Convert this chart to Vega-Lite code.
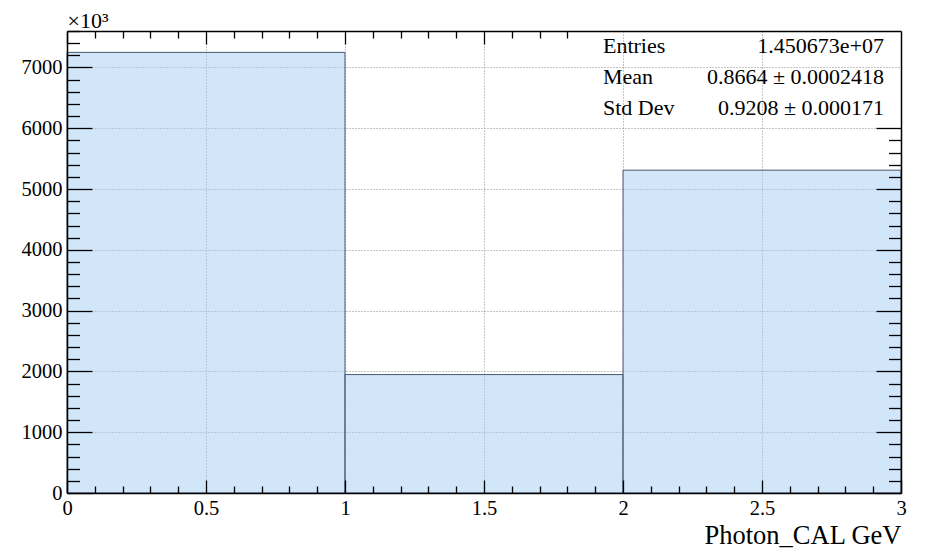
{
  "$schema": "https://vega.github.io/schema/vega-lite/v6.json",
  "width": 834,
  "height": 462,
  "autosize": "none",
  "padding": {"left": 67, "top": 31, "right": 26, "bottom": 56},
  "background": "white",
  "config": {
    "view": {"stroke": null},
    "font": "Liberation Serif",
    "axis": {
      "labelFont": "Liberation Serif",
      "titleFont": "Liberation Serif",
      "labelColor": "black",
      "titleColor": "black",
      "tickColor": "black",
      "domainColor": "black",
      "titleFontWeight": "normal",
      "labelFlush": false,
      "labelOverlap": false
    }
  },
  "resolve": {"axis": {"x": "independent", "y": "independent"}},
  "layer": [
    {
      "data": {"values": [
        {"bin_start": 0, "bin_end": 1, "entries_k": 7248.4},
        {"bin_start": 1, "bin_end": 2, "entries_k": 1947.9},
        {"bin_start": 2, "bin_end": 3, "entries_k": 5310.4}
      ]},
      "mark": {"type": "rect", "fill": "#a3cdf4", "fillOpacity": 0.5, "stroke": "#4a5670", "strokeWidth": 1},
      "encoding": {
        "x": {"field": "bin_start", "type": "quantitative",
          "scale": {"domain": [0, 3], "nice": false, "zero": false},
          "axis": {"orient": "bottom", "zindex": 0, "values": [0.5, 1, 1.5, 2, 2.5], "grid": true, "gridColor": "#8a8a8a", "gridDash": [1, 2], "gridWidth": 1, "ticks": false, "labels": false, "domain": false, "title": null}},
        "x2": {"field": "bin_end"},
        "y": {"field": "entries_k", "type": "quantitative",
          "scale": {"domain": [0, 7600], "nice": false},
          "axis": {"orient": "left", "zindex": 0, "values": [1000, 2000, 3000, 4000, 5000, 6000, 7000], "grid": true, "gridColor": "#8a8a8a", "gridDash": [1, 2], "gridWidth": 1, "ticks": false, "labels": false, "domain": false, "title": null}},
        "y2": {"datum": 0}
      }
    },
    {
      "mark": {"type": "rect", "fill": "white", "stroke": "black", "strokeWidth": 1.2},
      "encoding": {
        "x": {"datum": 1.874, "type": "quantitative",
          "scale": {"domain": [0, 3], "nice": false, "zero": false},
          "axis": {"orient": "bottom", "zindex": 1,
            "values": [0, 0.1, 0.2, 0.3, 0.4, 0.5, 0.6, 0.7, 0.8, 0.9, 1, 1.1, 1.2, 1.3, 1.4, 1.5, 1.6, 1.7, 1.8, 1.9, 2, 2.1, 2.2, 2.3, 2.4, 2.5, 2.6, 2.7, 2.8, 2.9, 3],
            "format": "~g",
            "labelExpr": "abs(datum.value % 0.5) < 1e-9 ? datum.label : ''",
            "tickSize": {"condition": {"test": "abs(datum.value % 0.5) < 1e-9", "value": -13}, "value": -7},
            "tickWidth": 1.3,
            "grid": false,
            "domainWidth": 1.5,
            "labelFontSize": 20.5,
            "labelBaseline": "alphabetic",
            "labelPadding": 34,
            "title": "Photon_CAL GeV",
            "titleFontSize": 26.5,
            "titleAlign": "right",
            "titleBaseline": "alphabetic",
            "titleX": 834,
            "titleY": 50}},
        "x2": {"datum": 3},
        "y": {"datum": 7600, "type": "quantitative",
          "scale": {"domain": [0, 7600], "nice": false},
          "axis": {"orient": "left", "zindex": 1,
            "values": [0, 200, 400, 600, 800, 1000, 1200, 1400, 1600, 1800, 2000, 2200, 2400, 2600, 2800, 3000, 3200, 3400, 3600, 3800, 4000, 4200, 4400, 4600, 4800, 5000, 5200, 5400, 5600, 5800, 6000, 6200, 6400, 6600, 6800, 7000, 7200, 7400, 7600],
            "format": "d",
            "labelExpr": "datum.value % 1000 === 0 ? datum.label : ''",
            "tickSize": {"condition": {"test": "datum.value % 1000 === 0", "value": -25}, "value": -12.5},
            "tickWidth": 1.3,
            "grid": false,
            "domainWidth": 1.5,
            "labelFontSize": 20.5,
            "labelPadding": 30,
            "title": "×10³",
            "titleFontSize": 22,
            "titleAngle": 0,
            "titleAlign": "left",
            "titleBaseline": "alphabetic",
            "titleX": 0,
            "titleY": -4}},
        "y2": {"datum": 6087}
      }
    },
    {
      "data": {"values": [
        {"stat": "Entries", "value": "1.450673e+07"},
        {"stat": "Mean", "value": "0.8664 ± 0.0002418"},
        {"stat": "Std Dev", "value": "0.9208 ± 0.000171"}
      ]},
      "mark": {"type": "text", "align": "left", "baseline": "alphabetic", "fontSize": 22, "font": "Liberation Serif", "color": "black"},
      "encoding": {
        "x": {"datum": 1.928, "type": "quantitative",
          "scale": {"domain": [0, 3], "nice": false, "zero": false},
          "axis": {"orient": "top", "zindex": 1,
            "values": [0, 0.1, 0.2, 0.3, 0.4, 0.5, 0.6, 0.7, 0.8, 0.9, 1, 1.1, 1.2, 1.3, 1.4, 1.5, 1.6, 1.7, 1.8],
            "labels": false,
            "tickSize": {"condition": {"test": "abs(datum.value % 0.5) < 1e-9", "value": -13}, "value": -7},
            "tickWidth": 1.3,
            "grid": false,
            "domainWidth": 1.5,
            "title": null}},
        "y": {"datum": 7237, "type": "quantitative",
          "scale": {"domain": [0, 7600], "nice": false},
          "axis": {"orient": "right", "zindex": 1,
            "values": [0, 200, 400, 600, 800, 1000, 1200, 1400, 1600, 1800, 2000, 2200, 2400, 2600, 2800, 3000, 3200, 3400, 3600, 3800, 4000, 4200, 4400, 4600, 4800, 5000, 5200, 5400, 5600, 5800, 6000],
            "labels": false,
            "tickSize": {"condition": {"test": "datum.value % 1000 === 0", "value": -25}, "value": -12.5},
            "tickWidth": 1.3,
            "grid": false,
            "domainWidth": 1.5,
            "title": null}},
        "yOffset": {"field": "stat", "type": "nominal", "scale": {"type": "point", "domain": ["Entries", "Mean", "Std Dev"], "range": [0, 62], "padding": 0}},
        "text": {"field": "stat"}
      }
    },
    {
      "data": {"values": [
        {"stat": "Entries", "value": "1.450673e+07"},
        {"stat": "Mean", "value": "0.8664 ± 0.0002418"},
        {"stat": "Std Dev", "value": "0.9208 ± 0.000171"}
      ]},
      "mark": {"type": "text", "align": "right", "baseline": "alphabetic", "fontSize": 22, "font": "Liberation Serif", "color": "black"},
      "encoding": {
        "x": {"datum": 2.939, "type": "quantitative", "scale": {"domain": [0, 3], "nice": false, "zero": false}, "axis": null},
        "y": {"datum": 7237, "type": "quantitative", "scale": {"domain": [0, 7600], "nice": false}, "axis": null},
        "yOffset": {"field": "stat", "type": "nominal", "scale": {"type": "point", "domain": ["Entries", "Mean", "Std Dev"], "range": [0, 62], "padding": 0}},
        "text": {"field": "value"}
      }
    }
  ]
}
